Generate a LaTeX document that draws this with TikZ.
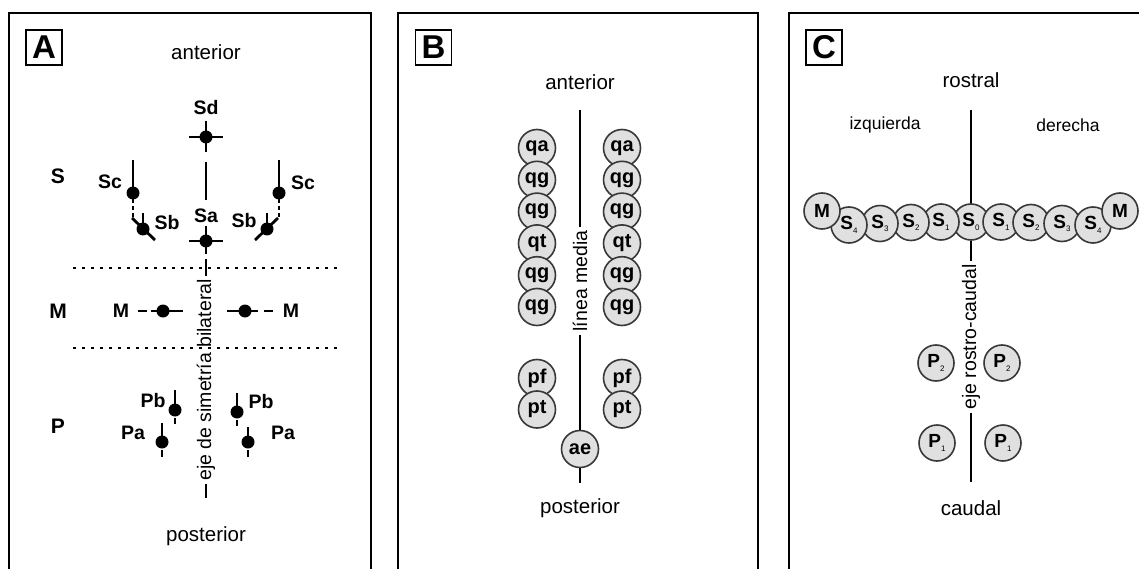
\documentclass[tikz,border=0pt]{standalone}
\usepackage{fontspec}
\setmainfont{Liberation Sans}
\newcommand{\sidx}[1]{\raisebox{-3.5pt}{\fontsize{8}{9}\selectfont\mdseries #1}}

\begin{document}
\begin{tikzpicture}[
x=1pt, y=-1pt,
frame/.style={line width=2.8pt},
tag/.style={draw, line width=1.4pt, minimum width=36pt, minimum height=35pt, inner sep=0pt, font=\bfseries\fontsize{33}{34}\selectfont},
heading/.style={inner sep=0pt, font=\fontsize{20.5}{24}\selectfont},
side/.style={inner sep=0pt, font=\fontsize{17.5}{20}\selectfont},
region/.style={inner sep=0pt, font=\bfseries\fontsize{21}{24}\selectfont},
lbl/.style={inner sep=0pt, font=\bfseries\fontsize{19.5}{22}\selectfont},
limb/.style={line width=2.8pt},
axis/.style={line width=2.6pt},
axistext/.style={rotate=90, inner sep=3pt, font=\fontsize{19.5}{22}\selectfont},
bone/.style={circle, draw=black!78, fill=black!12, line width=1.6pt, minimum size=37pt, inner sep=0pt, font=\bfseries\fontsize{20}{22}\selectfont},
plate/.style={bone, minimum size=36pt, font=\bfseries\fontsize{19}{21}\selectfont},
sep/.style={line width=2.6pt, dash pattern=on 2.6pt off 6.4pt}
]

\useasboundingbox (0,0) rectangle (1139,569);
\clip (0,0) rectangle (1139,569);

% panel A
\draw[frame] (9,13) rectangle (371,620);
\node[tag] (tagA) at (44,47.5) {A};
\node[heading] (antA) at (206,52) {anterior};
\node[heading] (postA) at (206,536) {posterior};
\node[region] (regS) at (58,176) {S};
\node[region] (regM) at (58,311) {M};
\node[region] (regP) at (58,426) {P};

\draw[sep] (73,268) -- (337,268);
\draw[sep] (73,348) -- (337,348);

\coordinate (Sd) at (206,137);
\node[lbl] (labSd) at (206,108) {Sd};
\draw[limb] (Sd) ++(-17,0) -- ++(34,0);
\draw[limb] (Sd) ++(0,-16) -- ++(0,31);
\fill (Sd) circle (6.5pt);

\coordinate (midA1) at (206,162);
\coordinate (midA2) at (206,200);
\draw[limb] (midA1) -- (midA2);

\coordinate (Sa) at (206,241);
\node[lbl] (labSa) at (206,216) {Sa};
\draw[limb] (Sa) ++(-17,0) -- ++(34,0);
\draw[limb] (Sa) ++(0,-15) -- ++(0,28);
\fill (Sa) circle (6.5pt);

\node[axistext] (axA) at (206,380) {eje de simetría bilateral};
\coordinate (midA3) at (206,259);
\coordinate (endA) at (206,498);
\draw[limb] (midA3) -- (axA.east);
\draw[limb] (axA.west) -- (endA);

\coordinate (ScL) at (133,193);
\node[lbl] (labScL) at (110,182) {Sc};
\draw[limb] (ScL) -- ++(0,-33);
\draw[limb, dash pattern=on 4pt off 3pt] (ScL) ++(0,6) -- ++(0,18);
\fill (ScL) circle (6.5pt);
\coordinate (SbL) at (143,229);
\node[lbl] (labSbL) at (167,223) {Sb};
\draw[limb] (SbL) -- ++(0,-16);
\draw[limb] (SbL) ++(-11,-11) -- ++(23,22);
\fill (SbL) circle (6.5pt);

\coordinate (ScR) at (279,193);
\node[lbl] (labScR) at (303,183) {Sc};
\draw[limb] (ScR) -- ++(0,-33);
\draw[limb, dash pattern=on 4pt off 3pt] (ScR) ++(0,6) -- ++(0,18);
\fill (ScR) circle (6.5pt);
\coordinate (SbR) at (267,229);
\node[lbl] (labSbR) at (244,221) {Sb};
\draw[limb] (SbR) -- ++(0,-16);
\draw[limb] (SbR) ++(11,-11) -- ++(-23,22);
\fill (SbR) circle (6.5pt);

\coordinate (ML) at (163,311);
\node[lbl] (labML) at (121,311) {M};
\draw[limb] (ML) ++(-12,0) -- ++(32,0);
\draw[limb] (ML) ++(-25,0) -- ++(9,0);
\fill (ML) circle (6.5pt);
\coordinate (MR) at (245,311);
\node[lbl] (labMR) at (291,311) {M};
\draw[limb] (MR) ++(-18,0) -- ++(31,0);
\draw[limb] (MR) ++(19,0) -- ++(9,0);
\fill (MR) circle (6.5pt);

\coordinate (PbL) at (175,410);
\node[lbl] (labPbL) at (153,401) {Pb};
\draw[limb] (PbL) -- ++(0,-20);
\draw[limb] (PbL) ++(0,8) -- ++(0,6);
\fill (PbL) circle (6.5pt);
\coordinate (PaL) at (162,442);
\node[lbl] (labPaL) at (133,433) {Pa};
\draw[limb] (PaL) -- ++(0,-19);
\draw[limb] (PaL) ++(0,8) -- ++(0,7);
\fill (PaL) circle (6.5pt);
\coordinate (PbR) at (237,412);
\node[lbl] (labPbR) at (261,402) {Pb};
\draw[limb] (PbR) -- ++(0,-19);
\draw[limb] (PbR) ++(0,8) -- ++(0,6);
\fill (PbR) circle (6.5pt);
\coordinate (PaR) at (248,442);
\node[lbl] (labPaR) at (283,433) {Pa};
\draw[limb] (PaR) -- ++(0,-15);
\draw[limb] (PaR) ++(0,8) -- ++(0,7);
\fill (PaR) circle (6.5pt);

% panel B
\draw[frame] (398,13) rectangle (758,620);
\node[tag] (tagB) at (433.5,47.5) {B};
\node[heading] (antB) at (580,82) {anterior};
\node[heading] (postB) at (580,508) {posterior};
\coordinate (topB) at (580,110);
\coordinate (endB) at (580,483);
\node[axistext] (axB) at (580,281) {línea media};
\node[bone] (ae) at (580,449) {ae};
\draw[axis] (topB) -- (axB.east);
\draw[axis] (axB.west) -- (ae.north);
\draw[axis] (ae.south) -- (endB);

\node[bone] (qaL) at (537,148) {qa};
\node[bone] (qgL1) at (537,179.8) {qg};
\node[bone] (qgL2) at (537,211.6) {qg};
\node[bone] (qtL) at (537,243.4) {qt};
\node[bone] (qgL3) at (537,275.2) {qg};
\node[bone] (qgL4) at (537,307) {qg};
\node[bone] (pfL) at (537,378) {pf};
\node[bone] (ptL) at (537,409.5) {pt};

\node[bone] (qaR) at (622,148) {qa};
\node[bone] (qgR1) at (622,179.8) {qg};
\node[bone] (qgR2) at (622,211.6) {qg};
\node[bone] (qtR) at (622,243.4) {qt};
\node[bone] (qgR3) at (622,275.2) {qg};
\node[bone] (qgR4) at (622,307) {qg};
\node[bone] (pfR) at (622,378) {pf};
\node[bone] (ptR) at (622,409.5) {pt};

% panel C
\draw[frame] (789,13) rectangle (1160,620);
\node[tag] (tagC) at (824,47.5) {C};
\node[heading] (rosC) at (971,80) {rostral};
\node[side] (izqC) at (885,125) {izquierda};
\node[side] (derC) at (1068,125) {derecha};
\node[heading] (cauC) at (971,508) {caudal};
\coordinate (topC) at (971,110);
\coordinate (midC) at (971,222);
\coordinate (endC) at (971,482);
\node[axistext] (axC) at (971,337) {eje rostro-caudal};
\draw[axis] (topC) -- (midC);

\node[plate] (S0) at (midC) {S\sidx{0}};
\node[plate] (S1L) at (941,222) {S\sidx{1}};
\node[plate] (S1R) at (1001,222) {S\sidx{1}};
\node[plate] (S2L) at (911,222.5) {S\sidx{2}};
\node[plate] (S2R) at (1031,222.5) {S\sidx{2}};
\node[plate] (S3L) at (880,223.5) {S\sidx{3}};
\node[plate] (S3R) at (1062,223.5) {S\sidx{3}};
\node[plate] (S4L) at (849,225) {S\sidx{4}};
\node[plate] (S4R) at (1093,225) {S\sidx{4}};
\node[plate] (McL) at (822,211) {M};
\node[plate] (McR) at (1120,211) {M};
\draw[axis] (S0.south) -- (axC.east);
\draw[axis] (axC.west) -- (endC);

\node[plate] (P2L) at (936,363) {P\sidx{2}};
\node[plate] (P2R) at (1002,363) {P\sidx{2}};
\node[plate] (P1L) at (937,443) {P\sidx{1}};
\node[plate] (P1R) at (1003,443) {P\sidx{1}};
\end{tikzpicture}
\end{document}
